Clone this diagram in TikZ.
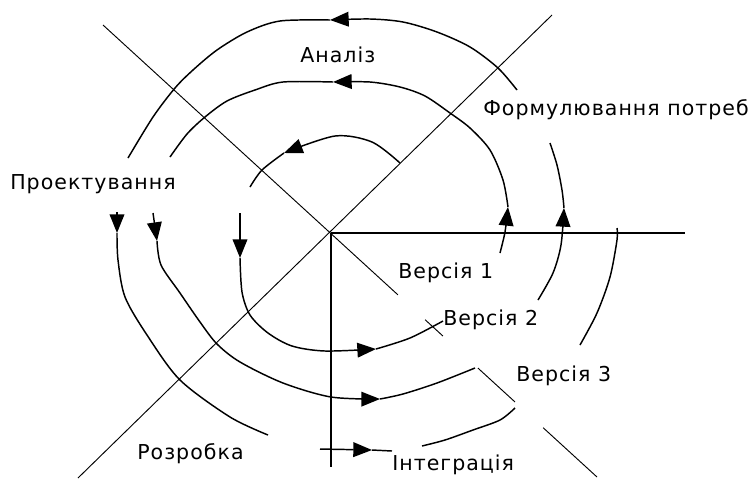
\documentclass[tikz,border=0pt]{standalone}
\usepackage{fontspec}
\setmainfont{DejaVu Sans}[LetterSpace=5]
\usetikzlibrary{arrows.meta,calc}

\begin{document}
\begin{tikzpicture}[x=0.75pt,y=-0.75pt,
  axis/.style={draw, line width=0.9pt},
  diag/.style={draw, line width=0.7pt},
  spiral/.style={draw, line width=1.1pt, line join=round},
  tip/.style={-{Triangle[length=14pt,width=11pt]}},
  lbl/.style={anchor=base west, inner sep=0pt, font=\fontsize{15.4}{17}\selectfont}
]
\useasboundingbox (0,0) rectangle (753,480);
\coordinate (O) at (331,233);
\coordinate (E) at (685,233);
\coordinate (S) at (331,467);
\coordinate (NW) at (103,25);
\coordinate (SE) at (597,477);
\coordinate (SW) at (78,478);
\coordinate (NE) at (552,15);

\draw[axis] (O) -- (E);
\draw[axis] (O) -- (S);
\draw[diag] (SW) -- (NE);
\foreach \a/\b in {0/0.597, 0.652/0.688, 0.759/0.834, 0.891/1}
  \draw[diag] ($(NW)!\a!(SE)$) -- ($(NW)!\b!(SE)$);

% loop 1
\draw[spiral,tip] plot[smooth] coordinates {(400,163) (372,142) (335,136) (284,153)};
\draw[spiral] plot[smooth] coordinates {(284,153) (262,170) (250,187)};
\draw[spiral,tip] (240,213) -- (240,258);
\draw[spiral,tip] plot[smooth] coordinates {(240,258) (242,292) (250,315) (268,333) (292,346) (325,351) (376,349)};
\draw[spiral] plot[smooth] coordinates {(376,349) (410,338) (443,321)};
\draw[spiral,tip] plot[smooth] coordinates {(500,253) (505,232) (508,207)};
\draw[spiral,tip] plot[smooth] coordinates {(508,207) (503,180) (490,150) (470,128) (450,113) (425,96) (400,87) (370,82) (333,82)};
\draw[spiral] plot[smooth] coordinates {(333,82) (283,82) (255,90) (227,101) (205,117) (187,134) (170,157)};

% loop 2
\draw[spiral,tip] (153,213) -- (157,241);
\draw[spiral,tip] plot[smooth] coordinates {(157,241) (161,265) (180,293) (200,322) (217,344) (240,362) (283,383) (331,397) (380,399)};
\draw[spiral] plot[smooth] coordinates {(380,399) (403,394) (437,383) (475,368)};
\draw[spiral,tip] plot[smooth] coordinates {(538,300) (553,273) (561,245) (564,208)};
\draw[spiral] plot[smooth] coordinates {(564,208) (562,190) (557,165) (550,143)};
\draw[spiral,tip] plot[smooth] coordinates {(517,90) (498,68) (470,47) (437,32) (403,22) (370,19) (330,20)};
\draw[spiral] plot[smooth] coordinates {(330,20) (280,21) (247,32) (217,50) (193,70) (175,88) (153,117) (128,158)};
\draw[spiral,tip] (117,212) -- (117,233);
\draw[spiral] plot[smooth] coordinates {(117,233) (118,260) (125,297) (147,335) (180,380) (230,417) (268,435)};

% loop 3
\draw[spiral,tip] (320,449) -- (372,450);
\draw[spiral] (372,450) -- (392,451);
\draw[spiral] plot[smooth] coordinates {(422,446) (445,440) (473,430) (500,420) (515,408)};
\draw[spiral] plot[smooth] coordinates {(580,345) (597,313) (610,277) (617,240) (617,228)};

\node[lbl] (analiz) at (300,62) {Аналіз};
\node[lbl] (formul) at (483,115) {Формулювання потреб};
\node[lbl] (proekt) at (10,189) {Проектування};
\node[lbl] (ver1) at (398,278) {Версія 1};
\node[lbl] (ver2) at (443,325) {Версія 2};
\node[lbl] (ver3) at (516,381) {Версія 3};
\node[lbl] (rozrob) at (137,459) {Розробка};
\node[lbl] (integr) at (392,470) {Інтеграція};
\end{tikzpicture}
\end{document}
